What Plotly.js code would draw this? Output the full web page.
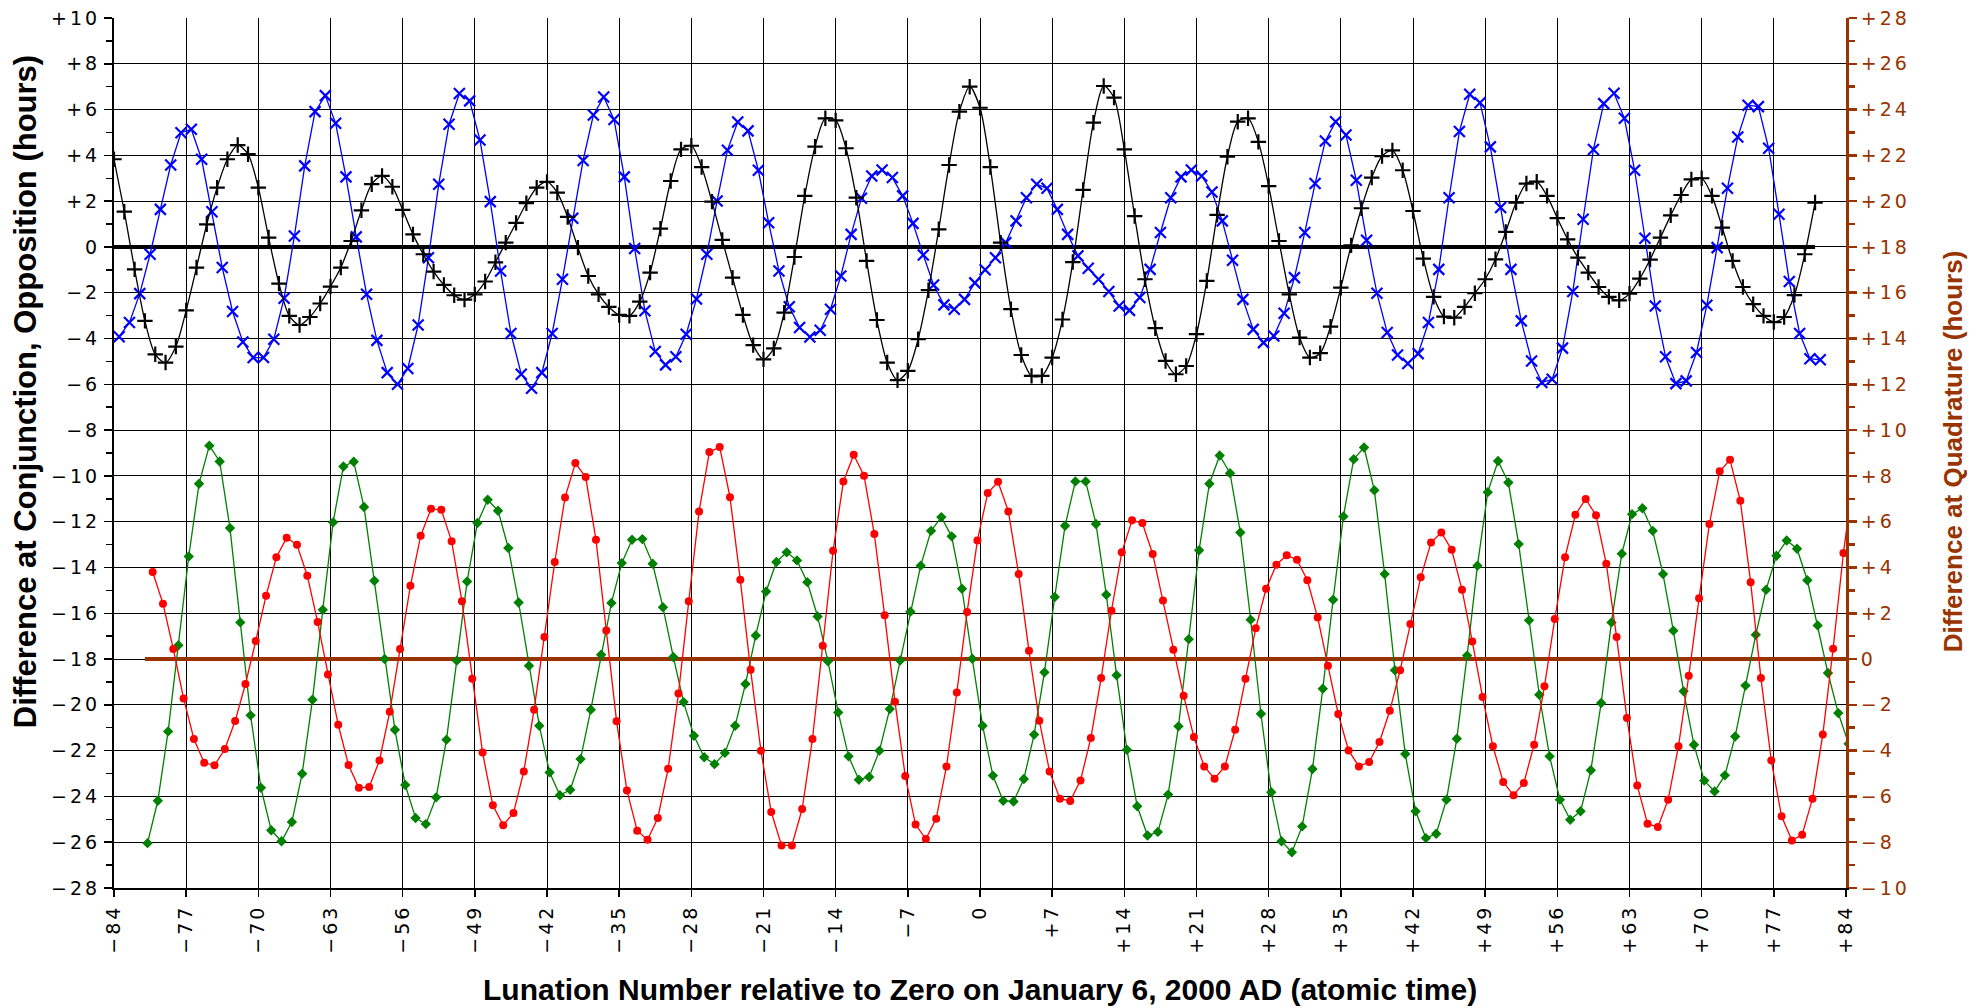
<!DOCTYPE html>
<html><head><meta charset="utf-8">
<script src="https://cdn.plot.ly/plotly-3.0.1.min.js"></script>
<style>
html,body{margin:0;padding:0;background:#fff;}
#chart{width:1982px;height:1008px;}
.xtick text,.ytick text,.y2tick text{letter-spacing:3px;}
</style>
</head><body><div id="chart"></div>
<script>
// Conjunction (new moon) differences, hours, at lunations -84 ... +81
const conjunctionStart = -84;
const conjunction = [
 3.83,1.54,-0.98,-3.23,-4.69,-5.05,-4.35,-2.77,-0.90,0.99,2.59,3.83,4.45,4.05,2.59,0.41,-1.60,-3.01,-3.41,-3.06,
 -2.47,-1.73,-0.90,0.26,1.60,2.74,3.10,2.63,1.62,0.55,-0.32,-1.08,-1.66,-2.11,-2.30,-2.07,-1.51,-0.67,0.19,1.05,
 1.91,2.59,2.84,2.37,1.31,-0.03,-1.27,-2.07,-2.62,-2.97,-3.01,-2.39,-1.12,0.80,2.88,4.26,4.42,3.49,1.98,0.31,
 -1.34,-2.97,-4.29,-4.91,-4.43,-2.87,-0.44,2.23,4.38,5.62,5.53,4.31,2.15,-0.61,-3.19,-5.05,-5.82,-5.41,-4.03,-1.89,
 0.77,3.58,5.91,7.00,6.08,3.49,0.19,-2.72,-4.72,-5.63,-5.63,-4.83,-3.17,-0.66,2.49,5.43,7.03,6.52,4.26,1.35,
 -1.41,-3.55,-4.98,-5.56,-5.20,-3.81,-1.48,1.40,3.94,5.47,5.62,4.59,2.66,0.26,-2.07,-3.96,-4.83,-4.64,-3.48,-1.78,
 0.07,1.69,3.03,3.97,4.22,3.35,1.57,-0.51,-2.18,-3.04,-3.09,-2.62,-2.02,-1.41,-0.54,0.66,1.94,2.77,2.85,2.23,
 1.26,0.33,-0.47,-1.12,-1.75,-2.18,-2.33,-2.04,-1.38,-0.55,0.41,1.38,2.27,2.95,3.00,2.23,0.84,-0.61,-1.75,-2.50,
 -3.01,-3.28,-3.06,-2.10,-0.32,1.94
];
// Opposition (full moon) differences, hours, at lunations -83.5 ... +81.5
const oppositionStart = -83.5;
const opposition = [
 -3.92,-3.30,-2.04,-0.32,1.64,3.58,4.99,5.14,3.83,1.54,-0.90,-2.82,-4.15,-4.83,-4.83,-4.03,-2.24,0.48,3.54,5.91,
 6.61,5.40,3.06,0.44,-2.07,-4.08,-5.49,-6.00,-5.31,-3.41,-0.47,2.74,5.36,6.70,6.38,4.67,1.98,-1.05,-3.78,-5.56,
 -6.17,-5.49,-3.78,-1.41,1.25,3.78,5.76,6.55,5.57,3.06,-0.07,-2.79,-4.57,-5.15,-4.80,-3.81,-2.27,-0.32,2.01,4.22,
 5.46,5.07,3.35,1.06,-1.05,-2.61,-3.52,-3.93,-3.64,-2.72,-1.27,0.55,2.13,3.10,3.36,3.03,2.23,1.03,-0.35,-1.66,
 -2.53,-2.72,-2.29,-1.57,-1.00,-0.47,0.19,1.14,2.15,2.74,2.56,1.64,0.55,-0.39,-0.93,-1.41,-1.95,-2.58,-2.77,-2.21,
 -0.98,0.63,2.15,3.06,3.36,3.10,2.40,1.14,-0.58,-2.29,-3.60,-4.18,-3.89,-2.90,-1.34,0.63,2.77,4.63,5.47,4.89,
 2.91,0.29,-2.02,-3.74,-4.72,-5.09,-4.66,-3.30,-0.98,2.15,5.04,6.67,6.30,4.37,1.72,-0.98,-3.23,-4.98,-5.92,-5.78,
 -4.42,-1.95,1.21,4.26,6.26,6.71,5.62,3.35,0.38,-2.58,-4.80,-5.97,-5.85,-4.61,-2.55,-0.03,2.56,4.80,6.19,6.13,
 4.31,1.43,-1.51,-3.78,-4.88,-4.93
];
// First quarter differences, hours (right axis), at lunations -80.75 ... +84.25
const firstQuarterStart = -80.75;
const firstQuarter = [
 -8.04,-6.19,-3.16,0.60,4.48,7.66,9.32,8.63,5.72,1.60,-2.46,-5.62,-7.48,-7.96,-7.12,-5.01,-1.78,2.15,5.97,8.41,
 8.62,6.64,3.42,0.00,-3.09,-5.50,-6.94,-7.21,-6.04,-3.52,-0.07,3.39,5.94,6.96,6.48,4.85,2.47,-0.29,-2.91,-4.95,
 -5.95,-5.71,-4.37,-2.21,0.19,2.45,4.19,5.21,5.24,4.16,2.26,0.09,-1.88,-3.35,-4.29,-4.59,-4.10,-2.91,-1.09,1.03,
 2.95,4.24,4.66,4.31,3.36,1.86,-0.10,-2.33,-4.25,-5.27,-5.15,-4.00,-2.18,-0.06,2.07,4.08,5.60,6.20,5.36,3.07,
 0.01,-2.91,-5.09,-6.19,-6.22,-5.24,-3.30,-0.58,2.71,5.82,7.76,7.76,5.90,2.81,-0.71,-3.96,-6.43,-7.71,-7.55,-5.92,
 -2.94,0.87,4.75,7.66,8.89,8.12,5.53,1.72,-2.39,-5.82,-7.96,-8.44,-7.31,-4.80,-1.30,2.59,6.23,8.73,9.24,7.37,
 3.71,-0.49,-4.15,-6.65,-7.82,-7.63,-6.14,-3.48,0.15,4.08,7.29,8.65,7.71,5.02,1.69,-1.56,-4.25,-6.14,-7.02,-6.65,
 -4.86,-1.92,1.60,4.60,6.33,6.59,5.60,3.71,1.24,-1.41,-3.74,-5.31,-5.78,-5.08,-3.38,-1.16,1.06,3.03,4.51,5.18,
 4.82,3.44,1.47,-0.61,-2.36,-3.70
];
// Last quarter differences, hours (right axis), at lunations -80.25 ... +84.75
const lastQuarterStart = -80.25;
const lastQuarter = [
 3.80,2.42,0.44,-1.72,-3.49,-4.53,-4.64,-3.93,-2.71,-1.09,0.79,2.77,4.45,5.30,4.99,3.64,1.62,-0.67,-2.87,-4.63,
 -5.62,-5.59,-4.43,-2.30,0.44,3.20,5.39,6.56,6.52,5.14,2.52,-0.86,-4.08,-6.39,-7.26,-6.72,-4.91,-2.21,0.96,4.24,
 7.06,8.56,7.95,5.21,1.25,-2.72,-5.74,-7.50,-7.89,-6.94,-4.79,-1.51,2.52,6.45,9.04,9.26,7.07,3.46,-0.47,-4.00,
 -6.68,-8.14,-8.14,-6.55,-3.49,0.58,4.73,7.76,8.92,8.01,5.46,1.91,-1.86,-5.11,-7.23,-7.86,-6.97,-4.69,-1.46,2.05,
 5.18,7.25,7.74,6.45,3.71,0.36,-2.69,-4.91,-6.10,-6.20,-5.30,-3.45,-0.83,2.11,4.66,6.06,5.94,4.59,2.56,0.41,
 -1.60,-3.41,-4.69,-5.23,-4.69,-3.09,-0.86,1.35,3.07,4.12,4.53,4.34,3.44,1.82,-0.29,-2.40,-3.99,-4.69,-4.50,-3.62,
 -2.26,-0.49,1.53,3.57,5.09,5.53,4.77,3.03,0.77,-1.66,-3.81,-5.37,-5.95,-5.41,-3.74,-1.19,1.75,4.45,6.30,6.99,
 6.28,4.16,0.96,-2.58,-5.52,-7.19,-7.34,-6.14,-3.81,-0.73,2.66,5.90,8.20,8.70,6.91,3.35,-0.83,-4.43,-6.87,-7.93,
 -7.67,-6.10,-3.30,0.45,4.63,8.00
];
// Reference (zero) lines
const conjZeroX = [-84, 81];
const quadZeroX = [-81, 84];
const zeroY = [0, 0];

// Tick labels
const xTickVals = [-84,-77,-70,-63,-56,-49,-42,-35,-28,-21,-14,-7,0,7,14,21,28,35,42,49,56,63,70,77,84];
const xTickText = ['\u221284','\u221277','\u221270','\u221263','\u221256','\u221249','\u221242','\u221235','\u221228','\u221221','\u221214','\u22127','0','+7','+14','+21','+28','+35','+42','+49','+56','+63','+70','+77','+84'];
const yTickVals = [-28,-26,-24,-22,-20,-18,-16,-14,-12,-10,-8,-6,-4,-2,0,2,4,6,8,10];
const yTickText = ['\u221228','\u221226','\u221224','\u221222','\u221220','\u221218','\u221216','\u221214','\u221212','\u221210','\u22128','\u22126','\u22124','\u22122','0','+2','+4','+6','+8','+10'];
const y2TickVals = [-10,-8,-6,-4,-2,0,2,4,6,8,10,12,14,16,18,20,22,24,26,28];
const y2TickText = ['\u221210','\u22128','\u22126','\u22124','\u22122','0','+2','+4','+6','+8','+10','+12','+14','+16','+18','+20','+22','+24','+26','+28'];
const yMinor = [-27,-25,-23,-21,-19,-17,-15,-13,-11,-9,-7,-5,-3,-1,1,3,5,7,9];
const y2Minor = [-9,-7,-5,-3,-1,1,3,5,7,9,11,13,15,17,19,21,23,25,27];

const xTitle = 'Lunation Number relative to Zero on January 6, 2000 AD (atomic time)';
const yTitle = 'Difference at Conjunction, Opposition (hours)';
const y2Title = 'Difference at Quadrature (hours)';

function positions(start, n){ const a = []; for (let i = 0; i < n; i++) a.push(start + i); return a; }

const BROWN = '#993300';
const traces = [
  {x: conjZeroX, y: zeroY, mode:'lines', line:{color:'#000', width:4}, hoverinfo:'skip'},
  {x: quadZeroX, y: zeroY, yaxis:'y2', mode:'lines', line:{color:BROWN, width:4}, hoverinfo:'skip'},
  {x: positions(firstQuarterStart, firstQuarter.length), y: firstQuarter, yaxis:'y2', mode:'lines+markers',
   line:{color:'#008000', width:1.3}, marker:{symbol:'diamond', size:8, color:'#008000'}},
  {x: positions(lastQuarterStart, lastQuarter.length), y: lastQuarter, yaxis:'y2', mode:'lines+markers',
   line:{color:'#ff0000', width:1.3}, marker:{symbol:'circle', size:8, color:'#ff0000'}},
  {x: positions(oppositionStart, opposition.length), y: opposition, mode:'lines+markers',
   line:{color:'#0000ff', width:1.3}, marker:{symbol:'x-thin', size:11, line:{color:'#0000ff', width:2.2}}},
  {x: positions(conjunctionStart, conjunction.length), y: conjunction, mode:'lines+markers',
   line:{color:'#000', width:1.3, shape:'spline', smoothing:0.8}, marker:{symbol:'cross-thin', size:11, line:{color:'#000', width:2.2}}}
];

const tickFont = {family:'DejaVu Sans', size:19, color:'#000'};
const titleFamily = 'Liberation Sans, Arial, sans-serif';
const layout = {
  width:1982, height:1008,
  margin:{l:114, r:136, t:18, b:120},
  paper_bgcolor:'#fff', plot_bgcolor:'#fff',
  showlegend:false,
  font:{family:'DejaVu Sans', size:19, color:'#000'},
  xaxis:{range:[-84,84], tickmode:'array', tickvals:xTickVals, ticktext:xTickText, tickangle:-90,
    tickfont:tickFont, showgrid:true, gridcolor:'#000', gridwidth:1, zeroline:false,
    showline:true, linecolor:'#000', linewidth:2, ticks:'outside', ticklen:7, tickcolor:'#000', tickwidth:1.5},
  yaxis:{range:[-28,10], tickmode:'array', tickvals:yTickVals, ticktext:yTickText, tickfont:tickFont,
    showgrid:true, gridcolor:'#000', gridwidth:1, zeroline:false,
    showline:true, linecolor:'#000', linewidth:2, ticks:'outside', ticklen:8, tickcolor:'#000', tickwidth:1.5,
    minor:{tickmode:'array', tickvals:yMinor, ticks:'outside', ticklen:6, tickcolor:'#000', tickwidth:1.5, showgrid:false}},
  yaxis2:{range:[-10,28], overlaying:'y', side:'right', tickmode:'array', tickvals:y2TickVals, ticktext:y2TickText,
    tickfont:{family:'DejaVu Sans', size:19, color:BROWN}, showgrid:false, zeroline:false,
    showline:true, linecolor:BROWN, linewidth:3, ticks:'outside', ticklen:8, tickcolor:BROWN, tickwidth:2.5,
    minor:{tickmode:'array', tickvals:y2Minor, ticks:'outside', ticklen:6, tickcolor:BROWN, tickwidth:2.5, showgrid:false}},
  annotations:[
    {text:xTitle, xref:'paper', yref:'paper', x:0.5, y:-0.117, xanchor:'center', yanchor:'middle', showarrow:false,
     font:{family:titleFamily, size:30, color:'#000', weight:'bold'}},
    {text:yTitle, xref:'paper', yref:'paper', x:-0.0514, y:0.571, xanchor:'center', yanchor:'middle', textangle:-90, showarrow:false,
     font:{family:titleFamily, size:31, color:'#000', weight:'bold'}},
    {text:y2Title, xref:'paper', yref:'paper', x:1.0618, y:0.502, xanchor:'center', yanchor:'middle', textangle:-90, showarrow:false,
     font:{family:titleFamily, size:26, color:BROWN, weight:'bold'}}
  ]
};
Plotly.newPlot('chart', traces, layout, {staticPlot:true, displayModeBar:false});
</script>
</body></html>
